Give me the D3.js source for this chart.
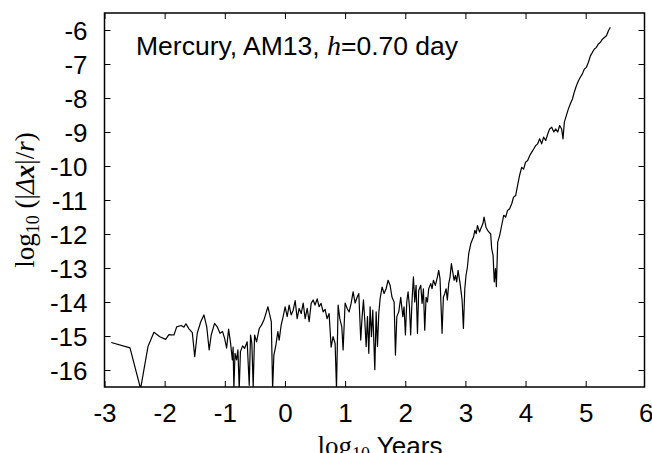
<!DOCTYPE html>
<html><head><meta charset="utf-8">
<script src="https://cdn.jsdelivr.net/npm/d3@7"></script>
<style>html,body{margin:0;padding:0;background:#fff;}svg{display:block;}</style>
</head><body>
<svg id="chart" width="652" height="453"></svg>
<script>
const logYears = [-2.887,-2.576,-2.40,-2.277,-2.178,-2.08,-1.983,-1.93,-1.845,-1.80,-1.724,-1.68,-1.646,-1.596,-1.54,-1.50,-1.458,-1.40,-1.347,-1.30,-1.26,-1.226,-1.17,-1.126,-1.08,-1.037,-1.003,-0.97,-0.937,-0.904,
-0.875,-0.862,-0.849,-0.83,-0.804,-0.782,-0.76,-0.74,-0.704,-0.67,-0.628,-0.594,-0.572,-0.55,-0.528,-0.505,-0.472,-0.428,-0.39,-0.35,-0.317,-0.284,-0.26,-0.227,-0.205,-0.184,-0.15,-0.118,-0.096,-0.063,-0.03,0.003,0.037,0.07,0.103,0.137,0.17,0.203,0.236,0.27,0.303,0.336,0.37,0.402,0.436,0.469,0.50,0.536,0.568,0.60,0.635,0.668,0.70,0.734,0.768,0.80,0.834,0.857,0.884,0.912,0.945,0.967,1.0,1.034,1.067,1.10,1.133,1.167,1.20,
1.228,1.26,1.283,1.305,1.327,1.35,1.372,1.394,1.416,1.438,1.46,1.494,1.516,1.538,1.56,1.582,1.615,1.648,1.682,1.715,1.748,1.78,1.815,1.837,1.86,1.892,1.925,1.96,1.98,2.003,2.025,2.047,2.07,2.09,2.113,2.136,2.158,2.18,2.203,2.224,2.258,2.28,2.302,2.324,2.346,2.369,2.39,2.424,2.446,2.468,2.50,2.535,2.556,2.578,2.612,2.634,2.657,2.679,2.70,2.723,2.745,2.767,2.79,2.812,2.834,2.855,2.878,2.912,2.945,2.967,2.99,3.01,3.034,3.055,3.09,3.11,3.135,3.157,3.18,3.20,3.235,3.257,3.29,3.31,3.342,3.375,3.42,3.437,3.46,3.48,3.50,3.515,3.537,
3.57,3.603,3.637,3.67,3.70,3.735,3.77,3.80,3.835,3.868,3.90,3.935,3.968,4.0,4.035,4.07,4.10,4.135,4.168,4.20,4.235,4.268,4.30,4.335,4.37,4.40,4.435,4.47,4.50,4.535,4.567,4.60,4.623,4.645,4.678,4.712,4.745,4.78,4.81,4.845,4.88,4.91,4.945,4.978,5.01,5.045,5.078,5.11,5.145,5.178,5.21,5.245,5.278,5.31,5.345,5.378,5.41];
const logErr = [-15.19,-15.35,-16.55,-15.31,-14.89,-15.02,-15.10,-14.96,-14.97,-14.73,-14.69,-14.74,-14.64,-14.79,-14.90,-15.61,-14.92,-14.58,-14.38,-14.73,-15.41,-14.97,-14.63,-14.73,-14.92,-14.87,-15.07,-15.36,-14.80,-15.21,
-15.70,-15.33,-16.55,-15.51,-15.70,-15.41,-16.55,-15.46,-15.29,-15.36,-15.17,-16.45,-14.97,-15.22,-16.5,-14.97,-15.17,-14.78,-14.68,-14.53,-14.34,-14.14,-14.32,-14.58,-16.55,-15.56,-15.26,-14.87,-15.12,-14.68,-14.43,-14.14,-14.43,-14.09,-14.38,-14.24,-13.96,-14.49,-14.19,-14.34,-14.03,-14.49,-14.19,-14.58,-14.04,-13.94,-14.09,-13.91,-14.14,-14.04,-14.29,-14.22,-14.49,-14.34,-15.33,-15.02,-15.22,-16.55,-14.09,-14.49,-14.73,-15.41,-14.03,-14.19,-14.29,-14.04,-13.70,-14.03,-13.86,
-13.75,-15.12,-14.43,-13.94,-14.53,-15.31,-14.43,-15.51,-14.14,-15.02,-14.24,-15.99,-14.29,-15.31,-14.34,-13.90,-13.56,-13.75,-13.61,-13.36,-13.51,-13.86,-14.0,-15.56,-14.43,-14.29,-13.86,-14.43,-14.14,-14.97,-14.0,-13.70,-14.14,-14.97,-13.94,-13.26,-14.0,-13.51,-14.92,-13.66,-13.51,-14.04,-13.61,-14.83,-13.86,-14.0,-13.61,-13.46,-13.61,-13.36,-13.51,-13.26,-13.07,-13.31,-14.92,-13.86,-13.75,-13.61,-13.94,-13.46,-13.26,-12.87,-13.12,-13.36,-13.22,-13.41,-13.07,-13.46,-13.94,-14.78,-13.61,-13.22,-12.97,-12.58,-12.28,-12.19,-12.09,-11.89,-11.99,-11.75,-11.94,-11.84,-11.70,-11.50,-11.80,-11.91,-12.0,-12.43,-12.63,-13.41,-13.02,-13.55,-12.24,
-12.04,-11.75,-11.45,-11.50,-11.31,-11.26,-11.11,-10.92,-10.87,-10.57,-10.28,-10.04,-10.09,-9.89,-9.84,-9.69,-9.60,-9.50,-9.40,-9.35,-9.20,-9.35,-9.15,-9.25,-9.05,-8.91,-8.86,-9.0,-8.91,-9.0,-8.81,-8.91,-9.20,-8.71,-8.52,-8.32,-8.17,-8.03,-7.83,-7.64,-7.49,-7.39,-7.29,-7.15,-7.10,-6.95,-6.76,-6.66,-6.56,-6.51,-6.41,-6.36,-6.27,-6.22,-6.17,-6.02,-5.92];
const xTicks = [-3,-2,-1,0,1,2,3,4,5,6];
const yTicks = [-16,-15,-14,-13,-12,-11,-10,-9,-8,-7,-6];

const svg = d3.select("#chart");
const L = 104.5, R = 644.5, T = 13, B = 387;
const x = d3.scaleLinear().domain([-3, 6]).range([L, L + 9*60.15]);
const y = d3.scaleLinear().domain([-16.5, -5.5]).range([B, T]);
const sans = "'Liberation Sans', Arial, Helvetica, sans-serif";
const serif = "'Liberation Serif', 'Times New Roman', serif";
const fmt = d => String(d);

svg.append("defs").append("clipPath").attr("id","clip")
  .append("rect").attr("x", L).attr("y", T).attr("width", R-L).attr("height", B-T);

const data = logYears.map((v,i)=>[v, logErr[i]]);
svg.append("path").datum(data)
  .attr("clip-path","url(#clip)")
  .attr("fill","none").attr("stroke","#000").attr("stroke-width",1.2).attr("stroke-linejoin","round")
  .attr("d", d3.line().x(d=>x(d[0])).y(d=>y(d[1])));

// axes with inward ticks
const tl = 6;
const axB = svg.append("g").attr("transform",`translate(0,${B})`)
  .call(d3.axisBottom(x).tickValues(xTicks).tickSize(-tl).tickPadding(17).tickFormat(fmt));
const axT = svg.append("g").attr("transform",`translate(0,${T})`)
  .call(d3.axisTop(x).tickValues(xTicks).tickSize(-tl).tickFormat(""));
const axL = svg.append("g").attr("transform",`translate(${L},0)`)
  .call(d3.axisLeft(y).tickValues(yTicks).tickSize(-tl).tickPadding(17).tickFormat(fmt));
const axR = svg.append("g").attr("transform",`translate(${R},0)`)
  .call(d3.axisRight(y).tickValues(yTicks).tickSize(-tl).tickFormat(""));
[axB,axT,axL,axR].forEach(g=>{
  g.select(".domain").remove();
  g.selectAll(".tick line").attr("stroke","#000").attr("stroke-width",1);
  g.selectAll("text").attr("font-family",sans).attr("font-size",26).attr("fill","#000");
});
axB.selectAll(".tick").filter(d=>x(d)>R+1).select("line").remove();
axT.selectAll(".tick").filter(d=>x(d)>R+1).select("line").remove();
axL.selectAll("text").attr("dy","0.36em");

svg.append("rect").attr("x",L).attr("y",T).attr("width",R-L).attr("height",B-T)
  .attr("fill","none").attr("stroke","#000").attr("stroke-width",1.5);

// title
const t = svg.append("text").attr("x",136).attr("y",55).attr("font-family",sans).attr("font-size",26.5).attr("fill","#000");
t.append("tspan").text("Mercury, AM13, ");
t.append("tspan").attr("font-family",serif).attr("font-style","italic").attr("font-size",28).text("h");
t.append("tspan").text("=0.70 day");

// x label
const xl = svg.append("text").attr("x",380).attr("y",455).attr("text-anchor","middle").attr("fill","#000").attr("font-size",27);
xl.append("tspan").attr("font-family",serif).text("log");
xl.append("tspan").attr("font-family",serif).attr("font-size",18).attr("dy",5).text("10");
xl.append("tspan").attr("font-family",sans).attr("font-size",26).attr("dy",-5).text(" Years");

// y label
const yl = svg.append("text").attr("transform","translate(34,200) rotate(-90)").attr("text-anchor","middle")
  .attr("fill","#000").attr("font-family",serif).attr("font-size",27);
yl.append("tspan").text("log");
yl.append("tspan").attr("font-size",18).attr("dy",5).text("10");
yl.append("tspan").attr("dy",-5).text(" (|");
yl.append("tspan").attr("font-style","italic").text("Δ");
yl.append("tspan").attr("font-style","italic").attr("font-weight","bold").text("x");
yl.append("tspan").text("|/");
yl.append("tspan").attr("font-style","italic").text("r");
yl.append("tspan").text(")");
</script>
</body></html>
